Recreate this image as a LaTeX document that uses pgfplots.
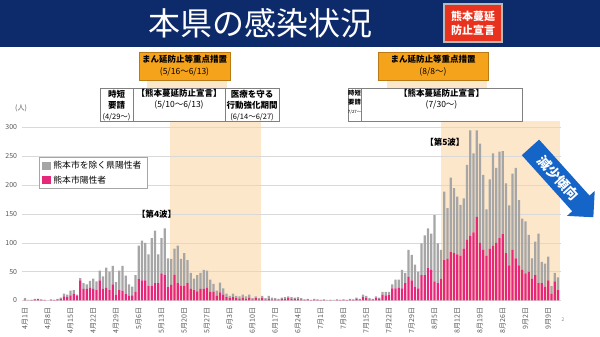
\documentclass[border=0pt]{standalone}
\usepackage{fontspec}
\setmainfont{Noto Sans CJK JP}
\usepackage{pgfplots}
\pgfplotsset{compat=1.18}
\usepackage{pgfplotstable}
\usetikzlibrary{shapes.arrows}
\definecolor{navy}{HTML}{0D2B6B}
\definecolor{redbox}{HTML}{E8321E}
\definecolor{orangebox}{HTML}{F6A31C}
\definecolor{peach}{HTML}{FDE7CB}
\definecolor{barpink}{HTML}{E6287A}
\definecolor{bargray}{HTML}{A6A6A6}
\definecolor{gridgray}{HTML}{D9D9D9}
\definecolor{txtgray}{HTML}{595959}
\definecolor{arrowblue}{HTML}{1565C8}
\pgfplotstableread{
d c o
0 1 3
1 0 1
2 1 0
3 2 1
4 3 0
5 1 1
6 1 0
7 0 0
8 1 1
9 1 0
10 2 1
11 3 2
12 7 5
13 6 4
14 9 8
15 11 7
16 8 2
17 35 4
18 20 10
19 20 8
20 22 12
21 20 18
22 18 15
23 35 17
24 20 22
25 22 35
26 18 32
27 28 32
28 10 22
29 18 34
30 17 43
31 12 31
32 8 20
33 9 15
34 15 29
35 37 58
36 35 69
37 35 65
38 26 54
39 26 82
40 30 91
41 30 50
42 47 61
43 45 80
44 23 50
45 27 45
46 45 45
47 30 65
48 26 46
49 26 56
50 30 40
51 20 28
52 18 20
53 16 28
54 20 28
55 20 33
56 22 30
57 15 21
58 15 14
59 8 9
60 14 17
61 10 11
62 6 6
63 4 4
64 6 6
65 4 4
66 3 4
67 5 5
68 3 4
69 5 5
70 2 2
71 4 3
72 2 2
73 4 4
74 2 2
75 3 5
76 2 3
77 2 2
78 1 2
79 3 2
80 3 3
81 4 3
82 3 3
83 3 2
84 3 3
85 2 2
86 1 1
87 2 1
88 1 0
89 1 2
90 1 1
91 1 0
92 1 1
93 0 1
94 1 0
95 0 1
96 1 1
97 1 0
98 1 1
99 1 0
100 2 1
101 1 1
102 3 2
103 2 1
104 6 4
105 5 3
106 2 2
107 2 1
108 4 3
109 3 2
110 10 5
111 9 6
112 10 5
113 21 7
114 21 15
115 22 14
116 21 32
117 30 18
118 41 47
119 35 44
120 24 38
121 21 29
122 44 55
123 44 69
124 56 69
125 53 63
126 33 115
127 30 69
128 38 50
129 70 119
130 72 88
131 84 129
132 82 113
133 80 100
134 78 88
135 90 87
136 105 130
137 112 183
138 118 137
139 145 150
140 100 172
141 88 130
142 78 80
143 90 120
144 95 160
145 100 130
146 108 150
147 115 144
148 82 121
149 61 104
150 88 132
151 73 157
152 61 113
153 53 89
154 47 90
155 50 64
156 38 35
157 44 58
158 30 86
159 30 37
160 24 40
161 35 41
162 12 13
163 33 15
164 18 22
}\data
\begin{document}
\begin{tikzpicture}[x=1pt,y=1pt]
\path[use as bounding box, fill=white] (0,0) rectangle (600,337);
% header
\fill[navy] (0,290) rectangle (600,337);
\node[text=white, font=\fontsize{32}{32}\selectfont, inner sep=0] at (260,314) {本県の感染状況};
\draw[draw=gray!55, line width=1.3pt, fill=redbox] (444,295) rectangle (502,333);
\node[text=white, font=\bfseries\fontsize{11}{14}\selectfont, align=center, inner sep=0] at (473,314) {熊本蔓延\\防止宣言};
% shaded periods
\fill[peach] (169.6,36.5) rectangle (260.6,216);
\fill[peach] (441,36.5) rectangle (559.6,216);
\fill[peach] (147,249) rectangle (227,257);
\fill[peach] (387,249) rectangle (487,257);
% orange boxes
\draw[orangebox!75!black, fill=orangebox, line width=0.6pt] (139,257) rectangle (230,285);
\node[align=center, font=\fontsize{8.5}{12}\selectfont, inner sep=0] at (184.5,271.5) {\textbf{まん延防止等重点措置}\\(5/16～6/13)};
\draw[orangebox!75!black, fill=orangebox, line width=0.6pt] (378,257) rectangle (488,285);
\node[align=center, font=\fontsize{8.5}{12}\selectfont, inner sep=0] at (433,271.5) {\textbf{まん延防止等重点措置}\\(8/8～)};
% white boxes group 1
\draw[gray, line width=0.5pt, fill=white] (100,216) rectangle (279,249);
\draw[gray, line width=0.5pt] (133,216) -- (133,249) (225,216) -- (225,249);
\node[align=center, font=\fontsize{8.5}{11}\selectfont, inner sep=0] at (116.5,231.5) {\textbf{時短}\\\textbf{要請}\\{\fontsize{7.5}{11}\selectfont(4/29～)}};
\node[align=center, font=\fontsize{8.5}{10.5}\selectfont, inner sep=0] at (179,238) {\textbf{【熊本蔓延防止宣言】}\\(5/10～6/13)};
\node[align=center, font=\fontsize{8.5}{11}\selectfont, inner sep=0] at (252,231.5) {\textbf{医療を守る}\\\textbf{行動強化期間}\\{\fontsize{7.5}{11}\selectfont(6/14～6/27)}};
% white boxes group 2
\draw[gray, line width=0.5pt, fill=white] (348,216) rectangle (522,249);
\draw[gray, line width=0.5pt] (361,216) -- (361,249);
\node[align=center, font=\fontsize{6.3}{9}\selectfont, inner sep=0] at (354.5,234.5) {\textbf{時短}\\\textbf{要請}\\{\fontsize{4.3}{9}\selectfont 7/27～}};
\node[align=center, font=\fontsize{8.5}{10.5}\selectfont, inner sep=0] at (441.5,238) {\textbf{【熊本蔓延防止宣言】}\\(7/30～)};
\node[font=\fontsize{7}{8}\selectfont, text=txtgray, inner sep=0] at (21,229) {(人)};
\begin{axis}[
  at={(21.75pt,36.5pt)}, anchor=south west,
  width=539.5pt, height=173pt, scale only axis,
  clip=false,
  ybar stacked, bar width=0.72,
  xmin=-1, xmax=165, ymin=0, ymax=300,
  ytick={0,50,...,300},
  ymajorgrids, grid style={gridgray, line width=0.6pt},
  axis line style={draw=none}, major tick length=0pt,
  /pgf/number format/assume math mode=true,
  yticklabel style={font=\fontsize{7}{8}\selectfont, text=txtgray, inner sep=0pt},
  yticklabel shift=4.5pt,
  xtick={0,7,...,161},
  xticklabels={4月1日,4月8日,4月15日,4月22日,4月29日,5月6日,5月13日,5月20日,5月27日,6月3日,6月10日,6月17日,6月24日,7月1日,7月8日,7月15日,7月22日,7月29日,8月5日,8月12日,8月19日,8月26日,9月2日,9月9日},
  xticklabel style={rotate=90, anchor=east, font=\fontsize{7}{7}\selectfont, text=txtgray, inner sep=0pt},
  xticklabel shift=7pt,
  reverse legend,
  legend style={at={(axis cs:4.2,249)}, anchor=north west, draw=gray!70, line width=0.5pt,
    font=\fontsize{8.8}{9}\selectfont, inner xsep=3.5pt, inner ysep=2pt, row sep=1.5pt},
  legend cell align=left,
]
\addplot[fill=barpink, draw=none, legend image code/.code={\fill[barpink] (0pt,-4pt) rectangle (9pt,4pt);}] table[x=d, y=c] {\data};
\addlegendentry{熊本市陽性者\hspace{4pt}}
\addplot[fill=bargray, draw=none, legend image code/.code={\fill[bargray] (0pt,-4pt) rectangle (9pt,4pt);}] table[x=d, y=o] {\data};
\addlegendentry{熊本市を除く県陽性者\hspace{4pt}}
\node[font=\bfseries\fontsize{8.5}{9}\selectfont, inner sep=0] at (axis cs:40.5,150) {【第4波】};
\node[font=\bfseries\fontsize{8.5}{9}\selectfont, inner sep=0] at (axis cs:129.2,275) {【第5波】};
\end{axis}
\node[single arrow, fill=arrowblue, text=white, rotate=-48, minimum height=94pt, single arrow head extend=7pt, inner xsep=3pt, inner ysep=5pt, font=\bfseries\fontsize{13.5}{14}\selectfont] at (558,159) {減少傾向};
\node[font=\fontsize{5}{5}\selectfont, text=txtgray!70] at (563,17) {2};
\end{tikzpicture}
\end{document}
